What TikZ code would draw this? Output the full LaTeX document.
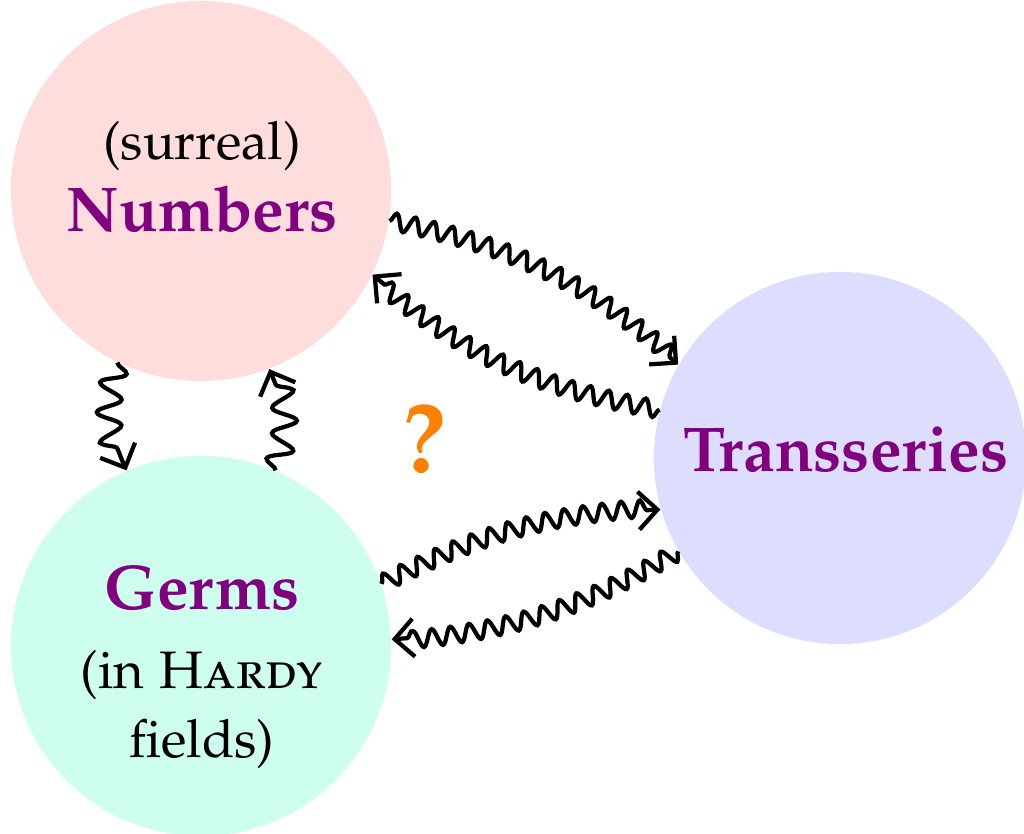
\documentclass[tikz,border=0pt]{standalone}
\usepackage[T1]{fontenc}
\usepackage[sc]{mathpazo}
\usetikzlibrary{decorations.pathmorphing,arrows.meta}
\definecolor{numfill}{RGB}{255,221,221}
\definecolor{germfill}{RGB}{206,255,238}
\definecolor{transfill}{RGB}{221,221,255}
\definecolor{titlepurple}{RGB}{128,0,128}
\definecolor{qorange}{RGB}{255,128,0}
\begin{document}
\begin{tikzpicture}[x=0.01cm,y=-0.01cm,
  blob/.style={circle,draw=none,inner sep=0pt,minimum size=3.8cm},
  title/.style={anchor=base,text=titlepurple,font=\fontsize{18}{22}\selectfont\bfseries},
  plain/.style={anchor=base,font=\fontsize{15}{18}\selectfont},
  wig/.style={decorate,line width=1.2pt,
    decoration={snake,amplitude=0.85mm,segment length=1.9mm,post length=1mm},
    -{Straight Barb[length=1.9mm,width=3.8mm]}},
  bigwig/.style={wig,
    decoration={snake,amplitude=1.2mm,segment length=2.8mm,post length=1mm}}]
\useasboundingbox (0,0) rectangle (1024,834);

% the three domains
\node[blob,fill=numfill]   (N) at (201,191) {};
\node[blob,fill=germfill]  (G) at (201,646) {};
\node[blob,fill=transfill,minimum size=3.72cm] (T) at (840,458) {};

% labels
\node[plain] (Nsub)  at (202,160) {(surreal)};
\node[title] (Ntit)  at (202,232) {Numbers};
\node[title] (Gtit)  at (202,610) {Germs};
\node[plain] (Gsub1) at (202,689) {(in \textsc{Hardy}};
\node[plain] (Gsub2) at (202,758) {fields)};
\node[title] (Ttit)  at (846,472) {Transseries};
\node[anchor=base,text=qorange,font=\fontsize{28}{32}\selectfont\bfseries] (Q) at (424,473) {?};

% wiggly correspondences
\draw[wig] (N.-9)   to[bend left=15] (T.150);
\draw[wig] (T.165)  to[bend left=15] (N.-26);
\draw[wig] (G.19)   to[bend left=12] (T.196);
\draw[wig] (T.210)  to[bend left=13] (G.2);
\draw[bigwig] (N.244)  to[bend right=20] (G.113);
\draw[bigwig] (G.67)   to[bend right=20] (N.-69);
\end{tikzpicture}
\end{document}
